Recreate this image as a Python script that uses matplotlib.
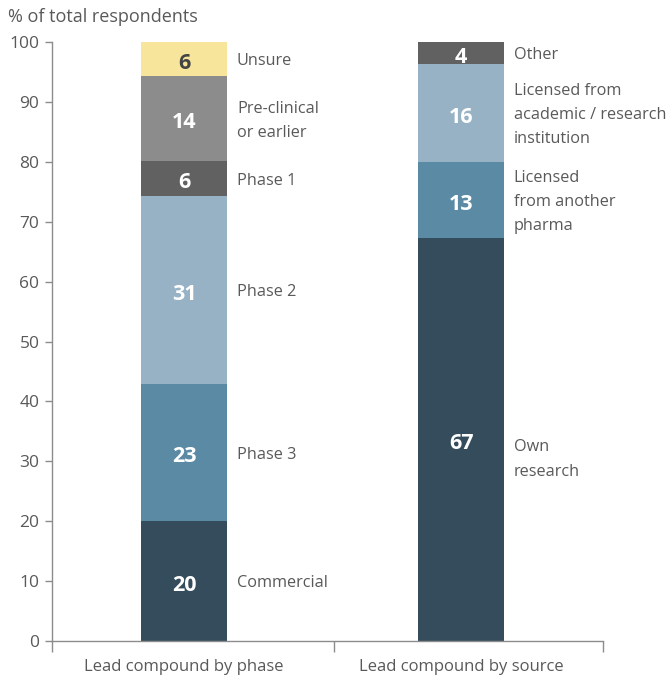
import numpy as np
import matplotlib.pyplot as plt

plt.rcParams['font.family'] = ['Open Sans', 'DejaVu Sans']

# data
categories = ['Lead compound by phase', 'Lead compound by source']

phase_labels = ['Commercial', 'Phase 3', 'Phase 2', 'Phase 1', 'Pre-clinical\nor earlier', 'Unsure']
phase_values = [20.0, 22.9, 31.4, 5.8, 14.2, 5.7]

source_labels = ['Own\nresearch', 'Licensed\nfrom another\npharma',
                 'Licensed from\nacademic / research\ninstitution', 'Other']
source_values = [67.3, 12.7, 16.3, 3.7]

# styling
phase_colors = ['#344c5c', '#5b8aa5', '#97b2c5', '#616161', '#8c8c8c', '#f7e59c']
source_colors = ['#344c5c', '#5b8aa5', '#97b2c5', '#616161']
phase_txt = ['white'] * 5 + ['#444444']
source_txt = ['white'] * 4
side_offset = {'Own\nresearch': -3.0}

text_col = '#595959'
axis_col = '#8c8c8c'

fig = plt.figure(figsize=(6.68, 6.82), dpi=100)
ax = fig.add_axes([52/668, 41/682, 551/668, 599/682])

xpos = [0.48, 1.485]
width = 0.312

for x, vals, labs, cols, tcols in [(xpos[0], phase_values, phase_labels, phase_colors, phase_txt),
                                   (xpos[1], source_values, source_labels, source_colors, source_txt)]:
    bottom = 0
    for v, lab, c, tc in zip(vals, labs, cols, tcols):
        ax.bar(x, v, width=width, bottom=bottom, color=c, linewidth=0)
        mid = bottom + v / 2
        ax.annotate(f'{round(v)}', xy=(x, mid), xytext=(0, -3), textcoords='offset points',
                    ha='center', va='center', color=tc,
                    fontsize=15.5, fontweight='bold')
        ax.annotate(lab, xy=(x + width / 2, mid + side_offset.get(lab, 0)),
                    xytext=(7, -1.5), textcoords='offset points',
                    ha='left', va='center', fontsize=11.7, color=text_col,
                    linespacing=1.68)
        bottom += v

ax.set_xlim(0, 2)
ax.set_ylim(0, 100)
ax.set_yticks(np.arange(0, 101, 10))
ax.set_xticks(xpos)
ax.set_xticklabels(categories)
# separators between the two groups
ax.set_xticks([0, 1.025, 2], minor=True)

ax.tick_params(axis='y', colors=axis_col, labelcolor=text_col, labelsize=12.5,
               length=5, width=1, pad=4)
ax.tick_params(axis='x', which='major', length=0, labelcolor=text_col, labelsize=12, pad=13)
ax.tick_params(axis='x', which='minor', length=8, width=1, colors=axis_col)

for s in ['top', 'right']:
    ax.spines[s].set_visible(False)
for s in ['left', 'bottom']:
    ax.spines[s].set_color(axis_col)
    ax.spines[s].set_linewidth(1)

fig.text(8/668, 1 - 17/682, '% of total respondents', ha='left', va='center',
         fontsize=13, color=text_col)

fig.savefig('out.png', dpi=100)
